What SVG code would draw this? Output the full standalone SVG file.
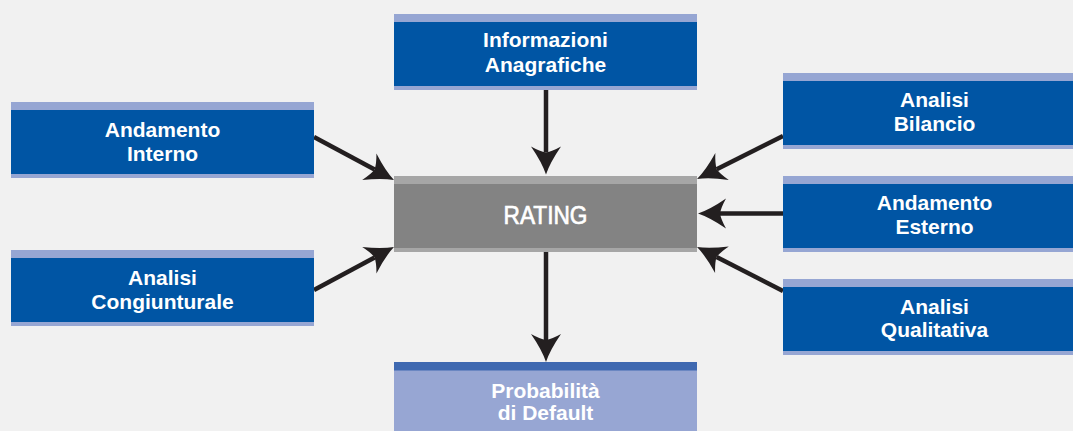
<svg xmlns="http://www.w3.org/2000/svg" width="1073" height="431" viewBox="0 0 1073 431">
<style>
.band{fill:#96A6D3}
.body{fill:#0055A4}
.lbl{font-family:"Liberation Sans",Arial,sans-serif;font-weight:bold;font-size:21px;fill:#FFFFFF;text-anchor:middle}
.conn{stroke:#231F20;stroke-width:4.5;fill:none;marker-end:url(#ah)}
</style>
<defs>
<marker id="ah" markerUnits="userSpaceOnUse" markerWidth="60" markerHeight="60" refX="0" refY="0" orient="auto" overflow="visible">
<path d="M22,0 Q10,-4 -6,-15 Q-1,-6 0,0 Q-1,6 -6,15 Q10,4 22,0 Z" fill="#231F20"/>
</marker>
</defs>
<rect x="0" y="0" width="1073" height="431" fill="#F1F1F1"/>
<g id="connectors">
<line class="conn" x1="546" y1="90" x2="546" y2="152.5"/>
<line class="conn" x1="546" y1="252" x2="546" y2="340"/>
<line class="conn" x1="314" y1="137" x2="374.6" y2="169.6"/>
<line class="conn" x1="314" y1="290" x2="374.6" y2="257.4"/>
<line class="conn" x1="783" y1="136" x2="716.7" y2="169.2"/>
<line class="conn" x1="783" y1="213.5" x2="720" y2="213.5"/>
<line class="conn" x1="783" y1="291" x2="716.6" y2="257"/>
</g>
<g id="informazioni">
<rect class="band" x="394" y="14" width="303" height="76"/>
<rect class="body" x="394" y="22" width="303" height="64"/>
<text class="lbl" x="545.5" y="47">Informazioni</text>
<text class="lbl" x="545.5" y="72">Anagrafiche</text>
</g>
<g id="andamento-interno">
<rect class="band" x="11" y="102" width="303" height="76"/>
<rect class="body" x="11" y="110" width="303" height="64"/>
<text class="lbl" x="162.5" y="137">Andamento</text>
<text class="lbl" x="162.5" y="161">Interno</text>
</g>
<g id="analisi-congiunturale">
<rect class="band" x="11" y="250" width="303" height="76"/>
<rect class="body" x="11" y="258" width="303" height="64"/>
<text class="lbl" x="162.5" y="284.5">Analisi</text>
<text class="lbl" x="162.5" y="308.5">Congiunturale</text>
</g>
<g id="analisi-bilancio">
<rect class="band" x="783" y="73" width="303" height="76"/>
<rect class="body" x="783" y="81" width="303" height="64"/>
<text class="lbl" x="934.5" y="107">Analisi</text>
<text class="lbl" x="934.5" y="131">Bilancio</text>
</g>
<g id="andamento-esterno">
<rect class="band" x="783" y="176" width="303" height="76"/>
<rect class="body" x="783" y="184" width="303" height="64"/>
<text class="lbl" x="934.5" y="209.5">Andamento</text>
<text class="lbl" x="934.5" y="233.5">Esterno</text>
</g>
<g id="analisi-qualitativa">
<rect class="band" x="783" y="279" width="303" height="76"/>
<rect class="body" x="783" y="287" width="303" height="64"/>
<text class="lbl" x="934.5" y="313.5">Analisi</text>
<text class="lbl" x="934.5" y="336.5">Qualitativa</text>
</g>
<g id="rating">
<rect x="394" y="176" width="303" height="76" fill="#A6A6A6"/>
<rect x="394" y="184" width="303" height="64" fill="#838383"/>
<text class="lbl" x="545.5" y="223.5" style="font-size:26px;font-weight:normal;stroke:#FFFFFF;stroke-width:0.7" textLength="84" lengthAdjust="spacingAndGlyphs">RATING</text>
</g>
<g id="probabilita">
<rect x="394" y="362" width="303" height="69" fill="#3F69B1"/>
<rect x="394" y="370.5" width="303" height="60.5" fill="#97A6D3"/>
<text class="lbl" x="545.5" y="397.5">Probabilità</text>
<text class="lbl" x="545.5" y="420">di Default</text>
</g>
</svg>
